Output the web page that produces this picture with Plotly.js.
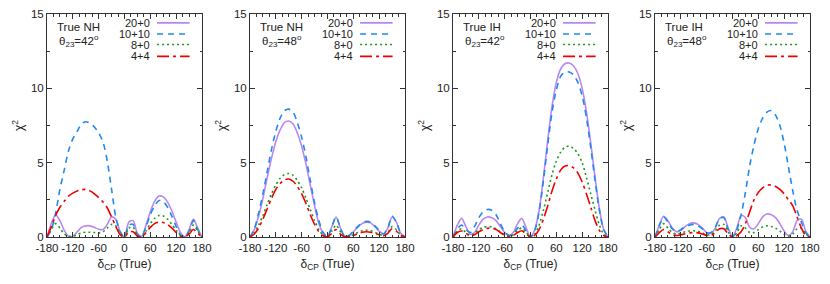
<!DOCTYPE html>
<html><head><meta charset="utf-8">
<script src="https://cdn.plot.ly/plotly-3.0.1.min.js"></script>
<style>html,body{margin:0;padding:0;background:#fff}#chart{width:830px;height:284px}</style>
</head><body><div id="chart"></div>
<script>
// delta_CP (True) grid, degrees
const deltaCP = [-180,-170,-160,-150,-140,-130,-120,-110,-100,-90,-80,-70,-60,-50,-40,-30,-20,-10,0,10,20,30,40,50,60,70,80,90,100,110,120,130,140,150,160,170,180];

const seriesNames = ["20+0","10+10","8+0","4+4"];
const panelHier = ["True NH","True NH","True IH","True IH"];
const panelTheta = ["42","48","42","48"];
const xTicks = [-180,-120,-60,0,60,120,180];
const yTicks = [0,5,10,15];

// Panel 1: True NH, theta23 = 42
const nh42_20p0 = [0,0.9,1.5,1.1,0.45,0.05,0.05,0.35,0.65,0.75,0.75,0.65,0.52,0.5,0.85,1.35,1.2,0.35,0,1.0,1.1,0.25,0.05,0.8,1.7,2.4,2.75,2.7,2.35,1.75,1.0,0.3,0,0.5,1.2,0.6,0];
const nh42_10p10 = [0,0.5,1.6,3.2,4.5,5.8,6.6,7.1,7.6,7.75,7.65,7.4,7.0,6.4,5.1,3.2,1.3,0.35,0,0.8,0.85,0.15,0.05,0.7,1.5,2.1,2.45,2.4,2.0,1.4,0.7,0.15,0,0.4,1.1,0.5,0];
const nh42_8p0 = [0,0.5,0.9,0.6,0.2,0.05,0.05,0.15,0.28,0.32,0.32,0.3,0.28,0.35,0.6,0.85,0.75,0.25,0,0.6,0.65,0.1,0.02,0.4,0.9,1.25,1.45,1.42,1.2,0.85,0.45,0.1,0,0.3,0.8,0.4,0];
const nh42_4p4 = [0,0.7,1.45,2.0,2.4,2.75,2.95,3.1,3.18,3.2,3.1,2.9,2.65,2.35,1.95,1.35,0.7,0.15,0,0.35,0.35,0.05,0,0.3,0.65,0.9,1.0,0.98,0.85,0.6,0.3,0.05,0,0.2,0.5,0.25,0];

// Panel 2: True NH, theta23 = 48
const nh48_20p0 = [0,0.5,1.4,2.6,4.0,5.3,6.4,7.2,7.7,7.8,7.6,7.0,6.1,4.9,3.5,2.1,0.9,0.25,0,0.7,1.35,0.6,0.05,0.1,0.35,0.65,0.9,1.0,0.95,0.7,0.4,0.2,0.6,1.35,1.0,0.25,0];
const nh48_10p10 = [0,0.55,1.6,2.9,4.4,5.9,7.1,8.0,8.5,8.6,8.4,7.7,6.7,5.4,3.8,2.3,1.1,0.3,0,0.7,1.35,0.6,0.05,0.1,0.4,0.7,0.95,1.05,1.0,0.75,0.45,0.2,0.6,1.4,1.0,0.25,0];
const nh48_8p0 = [0,0.3,0.8,1.45,2.2,2.9,3.5,3.95,4.2,4.27,4.15,3.8,3.3,2.6,1.85,1.1,0.5,0.12,0,0.4,0.8,0.35,0.03,0.05,0.15,0.3,0.42,0.45,0.42,0.32,0.18,0.1,0.3,0.7,0.5,0.12,0];
const nh48_4p4 = [0,0.2,0.6,1.2,1.9,2.6,3.2,3.6,3.85,3.9,3.75,3.4,2.9,2.25,1.5,0.85,0.35,0.08,0,0.25,0.5,0.2,0.02,0.03,0.1,0.22,0.32,0.35,0.32,0.25,0.15,0.08,0.25,0.55,0.4,0.1,0];

// Panel 3: True IH, theta23 = 42
const ih42_20p0 = [0,0.8,1.25,0.7,0.2,0.3,0.8,1.2,1.35,1.3,1.1,0.7,0.3,0.1,0.3,0.9,1.25,0.6,0,0.5,1.8,4.0,6.5,8.8,10.4,11.3,11.65,11.7,11.5,11.0,10.0,8.4,6.3,4.0,1.9,0.5,0];
const ih42_10p10 = [0,0.55,0.8,0.5,0.3,0.7,1.3,1.7,1.85,1.8,1.5,0.9,0.35,0.1,0.2,0.6,0.8,0.4,0,0.45,1.7,3.8,6.2,8.4,9.9,10.8,11.1,11.1,10.9,10.4,9.5,8.0,6.0,3.8,1.8,0.5,0];
const ih42_8p0 = [0,0.4,0.55,0.3,0.1,0.25,0.5,0.65,0.7,0.68,0.55,0.35,0.15,0.05,0.15,0.45,0.6,0.3,0,0.2,0.8,1.8,3.0,4.2,5.1,5.7,6.05,6.1,5.95,5.6,5.0,4.0,2.9,1.8,0.8,0.2,0];
const ih42_4p4 = [0,0.3,0.4,0.25,0.05,0.15,0.35,0.5,0.58,0.6,0.5,0.3,0.12,0.03,0.1,0.3,0.42,0.2,0,0.12,0.5,1.2,2.1,3.1,3.9,4.5,4.78,4.8,4.65,4.3,3.7,2.9,2.0,1.1,0.45,0.1,0];

// Panel 4: True IH, theta23 = 48
const ih48_20p0 = [0,0.8,1.4,1.1,0.6,0.35,0.45,0.7,0.9,0.95,0.85,0.6,0.3,0.25,0.6,1.25,1.35,0.6,0,0.6,1.45,1.3,0.65,0.55,0.9,1.35,1.55,1.5,1.3,0.9,0.4,0.1,0.35,1.1,1.2,0.4,0];
const ih48_10p10 = [0,0.75,1.35,1.0,0.55,0.35,0.5,0.7,0.8,0.85,0.75,0.55,0.3,0.3,0.65,1.25,1.3,0.5,0,0.5,1.5,3.0,4.8,6.2,7.3,8.0,8.4,8.5,8.2,7.5,6.3,4.7,3.1,1.8,1.0,0.3,0];
const ih48_8p0 = [0,0.5,0.9,0.6,0.3,0.2,0.25,0.35,0.4,0.42,0.38,0.28,0.15,0.15,0.4,0.8,0.85,0.35,0,0.3,0.75,0.6,0.3,0.3,0.5,0.68,0.75,0.7,0.6,0.4,0.18,0.05,0.2,0.55,0.6,0.2,0];
const ih48_4p4 = [0,0.3,0.5,0.35,0.15,0.1,0.15,0.22,0.28,0.3,0.28,0.2,0.1,0.1,0.3,0.55,0.55,0.2,0,0.1,0.35,0.9,1.7,2.5,3.0,3.3,3.48,3.5,3.4,3.2,2.9,2.5,2.1,1.35,0.6,0.1,0];

const panels = [
  [nh42_20p0, nh42_10p10, nh42_8p0, nh42_4p4],
  [nh48_20p0, nh48_10p10, nh48_8p0, nh48_4p4],
  [ih42_20p0, ih42_10p10, ih42_8p0, ih42_4p4],
  [ih48_20p0, ih48_10p10, ih48_8p0, ih48_4p4]
];

const styles = [
  {color:"#b987f2", dash:"solid", width:1.6},
  {color:"#2289f0", dash:"6px,5px", width:1.6},
  {color:"#1f9a1f", dash:"2px,3px", width:1.6},
  {color:"#f00000", dash:"12px,4px,3px,4px", width:1.6}
];

const W = 830, H = 284;
const lefts = [47, 250, 453, 655];
const PW = 155, PTOP = 14, PBOT = 237;
const FONT = "Liberation Sans, Arial, sans-serif";
const TXT = "#222";

const data = [];
const layout = {
  width: W, height: H, margin:{l:0,r:0,t:0,b:0},
  paper_bgcolor:"#fff", plot_bgcolor:"#fff", showlegend:false,
  font:{family:FONT, size:11.5, color:TXT},
  shapes:[], annotations:[]
};

panels.forEach((series, p) => {
  const xa = p === 0 ? "x" : "x" + (p+1);
  const ya = p === 0 ? "y" : "y" + (p+1);
  series.forEach((vals, s) => {
    data.push({
      x: deltaCP, y: vals, xaxis: xa, yaxis: ya, type:"scatter", mode:"lines",
      name: seriesNames[s], line: {color: styles[s].color, dash: styles[s].dash, width: styles[s].width, shape:"spline", smoothing:0.8},
      hoverinfo:"skip"
    });
  });
  const xk = p === 0 ? "xaxis" : "xaxis" + (p+1);
  const yk = p === 0 ? "yaxis" : "yaxis" + (p+1);
  layout[xk] = {
    domain:[lefts[p]/W, (lefts[p]+PW)/W], anchor: ya, range:[-180,180],
    tickvals: xTicks, ticktext: xTicks.map(String), tickangle:0, ticks:"inside", ticklen:5, tickcolor:"#333",
    minor:{ticks:"inside", ticklen:2.5, dtick:15, tick0:-180, tickcolor:"#333"},
    showline:true, linecolor:"#333", linewidth:1, mirror:"ticks", showgrid:false, zeroline:false,
    tickfont:{family:FONT, size:11.5, color:TXT},
    title:{text:"δ<sub>CP</sub> (True)", font:{family:FONT, size:12, color:TXT}, standoff:6},
    automargin:false, fixedrange:true
  };
  layout[yk] = {
    domain:[1-PBOT/H, 1-PTOP/H], anchor: xa, range:[0,15],
    tickvals: yTicks, tickangle:0, ticks:"inside", ticklen:5, tickcolor:"#333",
    minor:{ticks:"inside", ticklen:2.5, dtick:2.5, tick0:0, tickcolor:"#333"},
    showline:true, linecolor:"#333", linewidth:1, mirror:"ticks", showgrid:false, zeroline:false,
    tickfont:{family:FONT, size:11.5, color:TXT},
    title:{text:"χ<sup>2</sup>", font:{family:FONT, size:12, color:TXT}, standoff:4},
    automargin:false, fixedrange:true
  };
  const xd = xa + " domain", yd = ya + " domain";
  layout.annotations.push({xref:xd, yref:yd, x:0.05, y:0.94, xanchor:"left", yanchor:"middle", showarrow:false,
    text: panelHier[p], font:{family:FONT, size:11.5, color:TXT}});
  layout.annotations.push({xref:xd, yref:yd, x:0.065, y:0.88, xanchor:"left", yanchor:"middle", showarrow:false,
    text: "θ<sub>23</sub>=" + panelTheta[p] + "<sup>o</sup>", font:{family:FONT, size:11.5, color:TXT}});
  const rows = [0.96, 0.91, 0.863, 0.81];
  seriesNames.forEach((nm, s) => {
    layout.annotations.push({xref:xd, yref:yd, x:0.675, y:rows[s], xanchor:"right", yanchor:"middle", showarrow:false,
      text: nm, font:{family:FONT, size:11, color:TXT}});
    layout.shapes.push({type:"line", xref:xd, yref:yd, x0:0.71, x1:0.92, y0:rows[s], y1:rows[s],
      line:{color:styles[s].color, dash:styles[s].dash, width:styles[s].width}});
  });
});

Plotly.newPlot("chart", data, layout, {staticPlot:true, displayModeBar:false});
</script>
</body></html>
